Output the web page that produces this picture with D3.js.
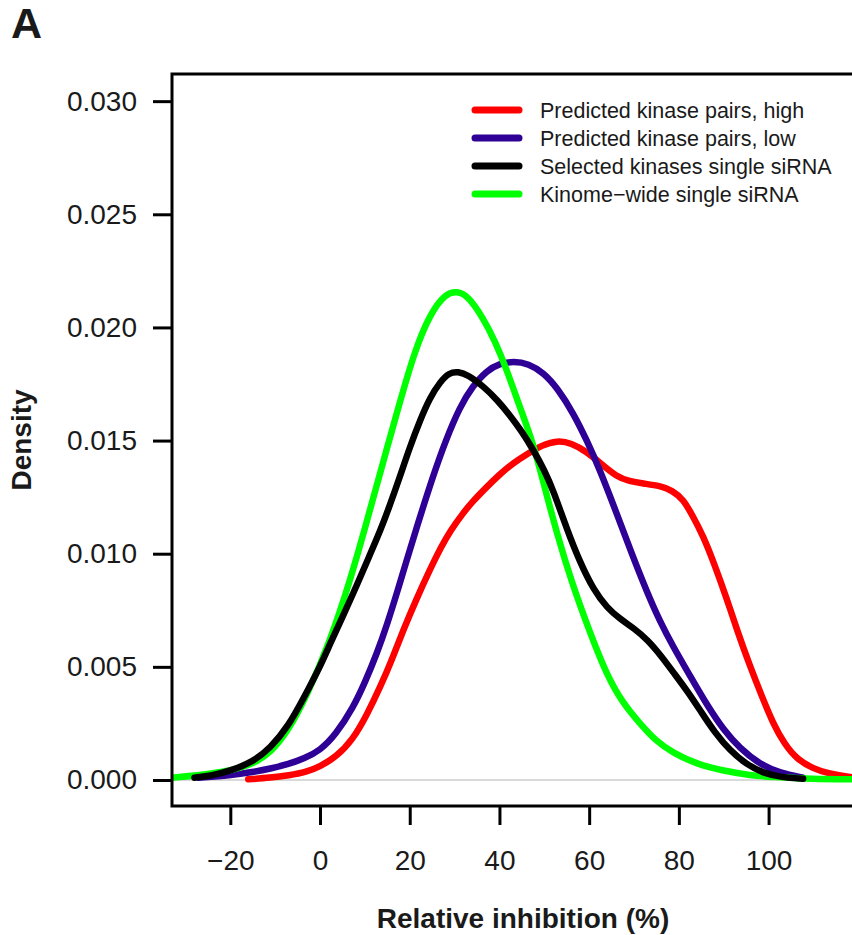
<!DOCTYPE html>
<html>
<head>
<meta charset="utf-8">
<script src="https://cdn.jsdelivr.net/npm/d3@7"></script>
<style>
  body { margin: 0; background: #fff; }
  svg { display: block; font-family: "Liberation Sans", Arial, sans-serif; }
</style>
</head>
<body>
<div id="chart"></div>
<script>
// density estimates
var highX = [-16, -11, -7, -3, 0, 3.5, 7.4, 10.5, 13.4, 16, 18.5, 21.5, 24.5, 27, 29, 31.9, 34, 36.4, 40, 43, 46.1, 49.5, 52.8, 56, 59.5, 62.5, 66.1, 69, 72, 75.8, 78.5, 81, 83, 85.4, 88, 90.7, 93, 95.9, 98.5, 101, 103.5, 106.4, 110, 113, 118.6, 124];
var highY = [0.00003, 0.0001, 0.0002, 0.00035, 0.0006, 0.0010, 0.0018, 0.0029, 0.0041, 0.0053, 0.0066, 0.0080, 0.0093, 0.0103, 0.0110, 0.0118, 0.0123, 0.0128, 0.0135, 0.0140, 0.0144, 0.0148, 0.0150, 0.0149, 0.0145, 0.0140, 0.0134, 0.0132, 0.0131, 0.0130, 0.0128, 0.0124, 0.0117, 0.0108, 0.0095, 0.0080, 0.0066, 0.0050, 0.0037, 0.0025, 0.0016, 0.0009, 0.0005, 0.0003, 0.0001, 0.00005];

var lowX = [-27, -20, -15, -11.1, -7, -3.5, 0, 3.5, 7.4, 10, 12.7, 15, 17.2, 19, 21.6, 25.3, 28, 31.2, 34, 37.2, 40, 43.1, 46.5, 49.8, 53, 56.5, 59.5, 62.4, 66.1, 69.5, 72.9, 75.8, 78.7, 82.5, 86.3, 90, 93.6, 98, 102.6, 107.7];
var lowY = [0.0001, 0.0002, 0.00035, 0.0005, 0.0007, 0.00095, 0.0013, 0.0020, 0.0032, 0.0043, 0.0056, 0.0069, 0.0083, 0.0095, 0.0112, 0.0135, 0.0150, 0.0165, 0.0174, 0.0181, 0.0184, 0.0185, 0.0184, 0.0180, 0.0173, 0.0162, 0.0150, 0.0137, 0.0118, 0.0100, 0.0083, 0.0070, 0.0059, 0.0046, 0.0033, 0.0022, 0.0014, 0.0007, 0.0003, 0.0001];

var selX = [-28, -24, -20, -15, -11.1, -7, -3.7, 0, 2.2, 5, 8.2, 11, 13.4, 15.5, 17.8, 20, 22.3, 24.5, 26.8, 28.8, 30.8, 33, 36.4, 39.5, 42.4, 45, 47.5, 50, 52, 55, 58, 61, 64, 67, 70, 73, 76, 79, 82, 85, 88, 91.4, 95, 98.8, 103, 107.7];
var selY = [0.0001, 0.0002, 0.0004, 0.0008, 0.0014, 0.0024, 0.0036, 0.0050, 0.0060, 0.0072, 0.0086, 0.0099, 0.0110, 0.0121, 0.0134, 0.0147, 0.0159, 0.0169, 0.0176, 0.0180, 0.01805, 0.0179, 0.0174, 0.0168, 0.0161, 0.0154, 0.0146, 0.0137, 0.0128, 0.0111, 0.0096, 0.0084, 0.0076, 0.0071, 0.0067, 0.0062, 0.0055, 0.0047, 0.0039, 0.0030, 0.0021, 0.0013, 0.0007, 0.0003, 0.00012, 0.00005];

var kinX = [-33, -27, -20, -15, -11, -7, -3, 2.2, 6.7, 10.4, 14, 17.8, 21, 24.5, 28, 30.5, 33, 36.4, 39, 41.7, 44.5, 47.5, 50, 52.8, 56, 60, 64, 67.5, 71.3, 75, 78.7, 84, 90, 96, 101, 108, 115, 124];
var kinY = [0.0001, 0.0002, 0.0004, 0.0007, 0.0012, 0.0022, 0.0037, 0.0061, 0.0088, 0.0114, 0.0140, 0.0167, 0.0189, 0.0206, 0.0215, 0.0216, 0.0214, 0.0204, 0.0194, 0.0181, 0.0165, 0.0149, 0.0130, 0.0109, 0.0088, 0.0066, 0.0046, 0.0034, 0.0025, 0.0017, 0.0012, 0.0007, 0.0004, 0.0002, 0.00013, 0.00006, 0.00003, 0.00002];

var legendLabels = ["Predicted kinase pairs, high", "Predicted kinase pairs, low", "Selected kinases single siRNA", "Kinome\u2212wide single siRNA"];
var legendColors = ["#ff0000", "#2e0096", "#000000", "#00ff00"];

var xTicks = [-20, 0, 20, 40, 60, 80, 100];
var yTicks = [0, 0.005, 0.010, 0.015, 0.020, 0.025, 0.030];

(function() {
    var width = 852, height = 935;
    var plotL = 172, plotT = 74, plotR = 874, plotB = 806;

    var svg = d3.select("#chart").append("svg")
        .attr("width", width)
        .attr("height", height);

    var x = d3.scaleLinear().domain([-33, 123.5]).range([plotL, plotR]);
    var y = d3.scaleLinear().domain([-0.00115, 0.0312]).range([plotB, plotT]);

    svg.append("defs").append("clipPath").attr("id", "plotClip")
       .append("rect")
       .attr("x", plotL).attr("y", plotT)
       .attr("width", plotR - plotL).attr("height", plotB - plotT);

    // zero reference line
    svg.append("line")
       .attr("x1", plotL).attr("x2", plotR)
       .attr("y1", y(0)).attr("y2", y(0))
       .attr("stroke", "#d9d9d9")
       .attr("stroke-width", 2);

    /* curves */
    var series = [
        { xs: highX, ys: highY, color: legendColors[0] },
        { xs: lowX,  ys: lowY,  color: legendColors[1] },
        { xs: kinX,  ys: kinY,  color: legendColors[3] },
        { xs: selX,  ys: selY,  color: legendColors[2] }
    ];

    var line = d3.line()
        .x(function(d) { return x(d[0]); })
        .y(function(d) { return y(d[1]); })
        .curve(d3.curveBasis);

    var curves = svg.append("g").attr("clip-path", "url(#plotClip)");
    curves.selectAll("path")
        .data(series)
        .enter()
        .append("path")
        .attr("d", function(s) { return line(d3.zip(s.xs, s.ys)); })
        .attr("fill", "none")
        .attr("stroke", function(s) { return s.color; })
        .attr("stroke-width", 6.5)
        .attr("stroke-linecap", "round")
        .attr("stroke-linejoin", "round");

    /* box */
    svg.append("rect")
       .attr("x", plotL).attr("y", plotT)
       .attr("width", plotR - plotL).attr("height", plotB - plotT)
       .attr("fill", "none")
       .attr("stroke", "#000")
       .attr("stroke-width", 3);

    /* axes */
    var xAxis = d3.axisBottom(x)
        .tickValues(xTicks)
        .tickSize(19)
        .tickPadding(25)
        .tickFormat(d3.format("d"));

    var yAxis = d3.axisLeft(y)
        .tickValues(yTicks)
        .tickSize(19)
        .tickPadding(16)
        .tickFormat(d3.format(".3f"));

    var gx = svg.append("g")
        .attr("transform", "translate(0," + plotB + ")")
        .call(xAxis);

    var gy = svg.append("g")
        .attr("transform", "translate(" + plotL + ",0)")
        .call(yAxis);

    [gx, gy].forEach(function(g) {
        g.select(".domain").remove();
        g.selectAll(".tick line").attr("stroke", "#000").attr("stroke-width", 3);
        g.selectAll(".tick text")
            .attr("fill", "#1a1a1a")
            .style("font-size", "28px")
            .style("font-family", "'Liberation Sans', Arial, sans-serif");
    });

    /* titles */
    svg.append("text")
       .attr("x", (plotL + plotR) / 2)
       .attr("y", 928)
       .attr("text-anchor", "middle")
       .attr("font-size", "28px")
       .attr("font-weight", "bold")
       .attr("fill", "#1a1a1a")
       .text("Relative inhibition (%)");

    svg.append("text")
       .attr("transform", "translate(31," + ((plotT + plotB) / 2) + ") rotate(-90)")
       .attr("text-anchor", "middle")
       .attr("font-size", "28px")
       .attr("font-weight", "bold")
       .attr("fill", "#1a1a1a")
       .text("Density");

    svg.append("text")
       .attr("x", 11)
       .attr("y", 38)
       .attr("font-size", "43px")
       .attr("font-weight", "bold")
       .attr("fill", "#1a1a1a")
       .text("A");

    /* legend */
    var legend = svg.append("g").attr("class", "legend");
    var rows = legend.selectAll("g")
        .data(legendLabels)
        .enter()
        .append("g")
        .attr("transform", function(d, i) { return "translate(0," + (110 + i * 28) + ")"; });

    rows.append("line")
        .attr("x1", 475).attr("x2", 519)
        .attr("stroke", function(d, i) { return legendColors[i]; })
        .attr("stroke-width", 7)
        .attr("stroke-linecap", "round");

    rows.append("text")
        .attr("x", 540)
        .attr("dy", "0.35em")
        .attr("font-size", "21.5px")
        .attr("fill", "#1a1a1a")
        .text(function(d) { return d; });
})();
</script>
</body>
</html>
